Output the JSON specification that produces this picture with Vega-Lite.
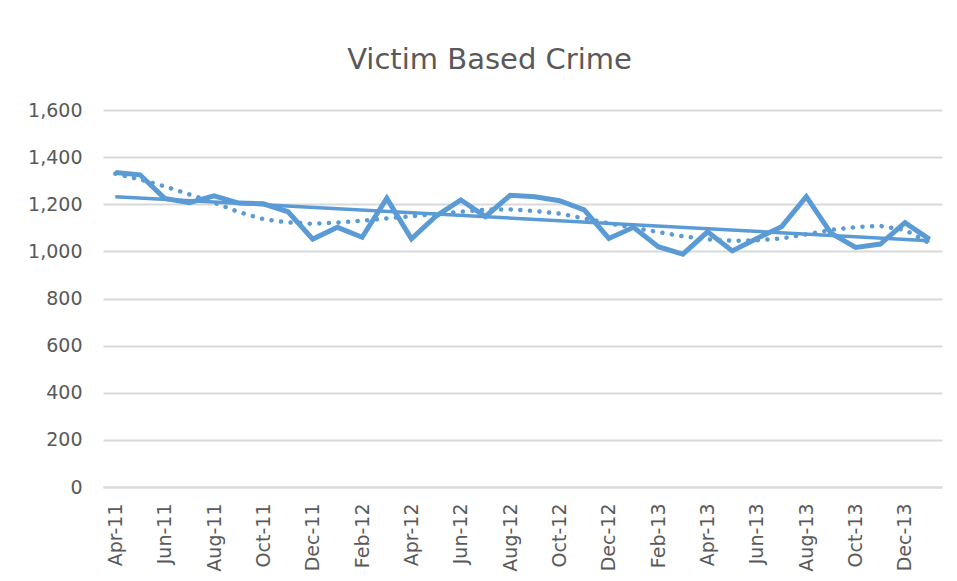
{
  "$schema": "https://vega.github.io/schema/vega-lite/v6.json",
  "width": 839,
  "height": 377,
  "autosize": "none",
  "padding": {"left": 103, "top": 110, "right": 15, "bottom": 94},
  "background": "white",
  "title": {
    "text": "Victim Based Crime",
    "font": "DejaVu Sans",
    "fontSize": 29,
    "fontWeight": "normal",
    "color": "#595959",
    "anchor": "middle",
    "baseline": "alphabetic",
    "offset": 3,
    "dx": -33
  },
  "config": {
    "view": {"stroke": null},
    "mark": {"invalid": "filter"},
    "axis": {
      "labelFont": "DejaVu Sans",
      "labelFontSize": 19,
      "labelColor": "#595959",
      "ticks": false,
      "title": null
    }
  },
  "data": {
    "values": [
      {"month": "Apr-11", "crimes": 1335, "poly": 1330, "linear": 1232},
      {"month": "May-11", "crimes": 1325, "poly": 1305, "linear": null},
      {"month": "Jun-11", "crimes": 1225, "poly": 1276, "linear": null},
      {"month": "Jul-11", "crimes": 1207, "poly": 1242, "linear": null},
      {"month": "Aug-11", "crimes": 1236, "poly": 1207, "linear": null},
      {"month": "Sep-11", "crimes": 1205, "poly": 1167, "linear": null},
      {"month": "Oct-11", "crimes": 1202, "poly": 1137, "linear": null},
      {"month": "Nov-11", "crimes": 1168, "poly": 1123, "linear": null},
      {"month": "Dec-11", "crimes": 1052, "poly": 1117, "linear": null},
      {"month": "Jan-12", "crimes": 1102, "poly": 1122, "linear": null},
      {"month": "Feb-12", "crimes": 1060, "poly": 1130, "linear": null},
      {"month": "Mar-12", "crimes": 1225, "poly": 1140, "linear": null},
      {"month": "Apr-12", "crimes": 1053, "poly": 1149, "linear": null},
      {"month": "May-12", "crimes": 1150, "poly": 1159, "linear": null},
      {"month": "Jun-12", "crimes": 1218, "poly": 1168, "linear": null},
      {"month": "Jul-12", "crimes": 1148, "poly": 1177, "linear": null},
      {"month": "Aug-12", "crimes": 1238, "poly": 1178, "linear": null},
      {"month": "Sep-12", "crimes": 1232, "poly": 1171, "linear": null},
      {"month": "Oct-12", "crimes": 1215, "poly": 1160, "linear": null},
      {"month": "Nov-12", "crimes": 1176, "poly": 1140, "linear": null},
      {"month": "Dec-12", "crimes": 1055, "poly": 1119, "linear": null},
      {"month": "Jan-13", "crimes": 1102, "poly": 1100, "linear": null},
      {"month": "Feb-13", "crimes": 1020, "poly": 1082, "linear": null},
      {"month": "Mar-13", "crimes": 988, "poly": 1064, "linear": null},
      {"month": "Apr-13", "crimes": 1083, "poly": 1051, "linear": null},
      {"month": "May-13", "crimes": 1002, "poly": 1045, "linear": null},
      {"month": "Jun-13", "crimes": 1055, "poly": 1047, "linear": null},
      {"month": "Jul-13", "crimes": 1105, "poly": 1055, "linear": null},
      {"month": "Aug-13", "crimes": 1232, "poly": 1072, "linear": null},
      {"month": "Sep-13", "crimes": 1077, "poly": 1091, "linear": null},
      {"month": "Oct-13", "crimes": 1017, "poly": 1103, "linear": null},
      {"month": "Nov-13", "crimes": 1031, "poly": 1108, "linear": null},
      {"month": "Dec-13", "crimes": 1122, "poly": 1091, "linear": null},
      {"month": "Jan-14", "crimes": 1051, "poly": 1034, "linear": 1045}
    ]
  },
  "encoding": {
    "x": {
      "field": "month",
      "type": "ordinal",
      "sort": null,
      "scale": {
        "type": "point",
        "padding": 0.5,
        "domain": ["Apr-11","May-11","Jun-11","Jul-11","Aug-11","Sep-11","Oct-11","Nov-11","Dec-11","Jan-12","Feb-12","Mar-12","Apr-12","May-12","Jun-12","Jul-12","Aug-12","Sep-12","Oct-12","Nov-12","Dec-12","Jan-13","Feb-13","Mar-13","Apr-13","May-13","Jun-13","Jul-13","Aug-13","Sep-13","Oct-13","Nov-13","Dec-13","Jan-14"]
      },
      "axis": {
        "values": ["Apr-11","Jun-11","Aug-11","Oct-11","Dec-11","Feb-12","Apr-12","Jun-12","Aug-12","Oct-12","Dec-12","Feb-13","Apr-13","Jun-13","Aug-13","Oct-13","Dec-13"],
        "labelAngle": -90,
        "labelAlign": "right",
        "labelBaseline": "middle",
        "labelPadding": 16,
        "domain": true,
        "domainColor": "#d9d9d9",
        "domainWidth": 2,
        "grid": false
      }
    }
  },
  "layer": [
    {
      "mark": {"type": "line", "color": "#5b9bd5", "strokeWidth": 5, "strokeJoin": "miter"},
      "encoding": {
        "y": {
          "field": "crimes",
          "type": "quantitative",
          "scale": {"domain": [0, 1600], "nice": false},
          "axis": {
            "values": [0, 200, 400, 600, 800, 1000, 1200, 1400, 1600],
            "format": ",.0f",
            "domain": false,
            "grid": true,
            "gridColor": "#d9d9d9",
            "gridWidth": 2,
            "labelPadding": 21
          }
        }
      }
    },
    {
      "mark": {"type": "line", "color": "#5b9bd5", "strokeWidth": 4.5, "strokeDash": [0.1, 9.5], "strokeCap": "round"},
      "encoding": {"y": {"field": "poly", "type": "quantitative"}}
    },
    {
      "transform": [{"filter": "datum.linear != null"}],
      "mark": {"type": "line", "color": "#5b9bd5", "strokeWidth": 3.5},
      "encoding": {"y": {"field": "linear", "type": "quantitative"}}
    }
  ]
}
